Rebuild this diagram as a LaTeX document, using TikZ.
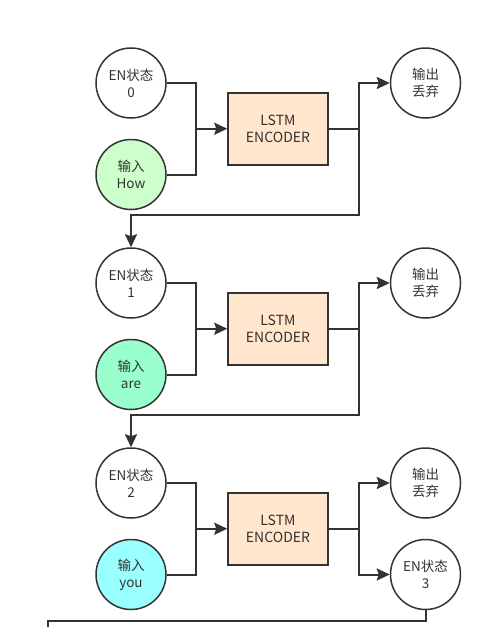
\documentclass[tikz,border=0pt]{standalone}
\usepackage{fontspec}
\setmainfont{Noto Sans CJK SC}
\usetikzlibrary{arrows.meta,positioning,calc}
\definecolor{linegray}{HTML}{333333}
\definecolor{howfill}{HTML}{CCFFCC}
\definecolor{arefill}{HTML}{99FFCC}
\definecolor{youfill}{HTML}{99FFFF}
\definecolor{encfill}{HTML}{FFE6CC}
\begin{document}
\begin{tikzpicture}[x=1pt,y=1pt,
 node distance=20pt and 62pt,
 state/.style={circle,draw=linegray,line width=1.5pt,minimum size=70pt,inner sep=0pt,align=center,text=linegray,font=\fontsize{13.5}{17}\selectfont},
 token/.style={state},
 encoder/.style={draw=linegray,line width=1.5pt,fill=encfill,minimum width=100pt,minimum height=72pt,align=center,text=linegray,font=\fontsize{14}{17}\selectfont},
 wire/.style={draw=linegray,line width=2pt},
 flow/.style={wire,-{Stealth[length=13pt,width=12pt,inset=2pt]}}]
\useasboundingbox (0,0) rectangle (490,-627);
% block 0
\node[state] (en0) at (131,-83) {EN状态\\0};
\node[token,fill=howfill,below=of en0] (in0) {输入\\How};
\node[encoder] (enc0) at ($(en0)!.5!(in0)+(147,0)$) {LSTM\\ENCODER};
\node[state,right=223pt of en0] (out0) {输出\\丢弃};
% block 1
\node[state,below=37pt of in0] (en1) {EN状态\\1};
\node[token,fill=arefill,below=of en1] (in1) {输入\\are};
\node[encoder] (enc1) at ($(en1)!.5!(in1)+(147,0)$) {LSTM\\ENCODER};
\node[state,right=223pt of en1] (out1) {输出\\丢弃};
% block 2
\node[state,below=37pt of in1] (en2) {EN状态\\2};
\node[token,fill=youfill,below=of en2] (in2) {输入\\you};
\node[encoder] (enc2) at ($(en2)!.5!(in2)+(147,0)$) {LSTM\\ENCODER};
\node[state,right=223pt of en2] (out2) {输出\\丢弃};
\node[state,right=223pt of in2] (en3) {EN状态\\3};
% junctions
\coordinate (j0) at ($(enc0.west)+(-31,0)$);
\coordinate (j1) at ($(enc1.west)+(-31,0)$);
\coordinate (j2) at ($(enc2.west)+(-31,0)$);
\coordinate (s0) at ($(enc0.east)+(30,0)$);
\coordinate (s1) at ($(enc1.east)+(30,0)$);
\coordinate (s2) at ($(enc2.east)+(30,0)$);
\coordinate (t0) at ($(en1.north)+(0,32)$);
\coordinate (t1) at ($(en2.north)+(0,32)$);
\coordinate (exit) at (48,-627);
% connectors
\draw[wire] (en0.east) -| (j0) |- (in0.east);
\draw[flow] (j0) -- (enc0.west);
\draw[wire] (enc0.east) -- (s0);
\draw[flow] (s0) |- (out0.west);
\draw[flow] (s0) |- (t0) -- (en1.north);
\draw[wire] (en1.east) -| (j1) |- (in1.east);
\draw[flow] (j1) -- (enc1.west);
\draw[wire] (enc1.east) -- (s1);
\draw[flow] (s1) |- (out1.west);
\draw[flow] (s1) |- (t1) -- (en2.north);
\draw[wire] (en2.east) -| (j2) |- (in2.east);
\draw[flow] (j2) -- (enc2.west);
\draw[wire] (enc2.east) -- (s2);
\draw[flow] (s2) |- (out2.west);
\draw[flow] (s2) |- (en3.west);
\draw[wire] (en3.south) -- ++(0,-11) -| (exit);
\end{tikzpicture}
\end{document}
